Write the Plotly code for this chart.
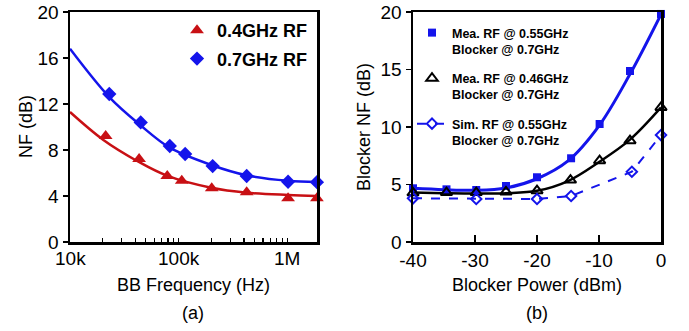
import math
import plotly.graph_objects as go

# ---------------- Panel (a) data ----------------
red_x = [21.3e3, 43.3e3, 78.7e3, 107e3, 202e3, 424e3, 1.02e6, 1.88e6]
red_y = [9.22, 7.22, 5.74, 5.33, 4.67, 4.32, 3.8, 3.8]
blue_x = [23e3, 44.8e3, 83e3, 115e3, 206e3, 424e3, 1.02e6, 1.88e6]
blue_y = [12.87, 10.4, 8.35, 7.65, 6.6, 5.74, 5.24, 5.2]

red_fit_x = [1e4, 2.03e4, 4.27e4, 7.8e4, 2e5, 4.24e5, 1.02e6, 1.88e6]
red_fit_y = [11.3, 8.87, 6.98, 5.77, 4.72, 4.29, 4.09, 4.0]
blue_fit_x = [1e4, 2.3e4, 4.4e4, 8.3e4, 2e5, 4.24e5, 1.02e6, 1.88e6]
blue_fit_y = [16.8, 12.6, 10.2, 8.2, 6.7, 5.8, 5.33, 5.22]

a_tick_vals = [2e4, 3e4, 4e4, 5e4, 6e4, 7e4, 8e4, 9e4, 1e5,
               2e5, 3e5, 4e5, 5e5, 6e5, 7e5, 8e5, 9e5, 1e6]
a_label_vals = [1e4, 1e5, 1e6]
a_label_text = ["10k", "100k", "1M"]
a_y_ticks = [0, 4, 8, 12, 16, 20]

# ---------------- Panel (b) data ----------------
mea55_x = [-40, -34.6, -29.8, -25, -20, -14.5, -9.9, -5, 0]
mea55_y = [4.67, 4.58, 4.52, 4.87, 5.63, 7.28, 10.26, 14.87, 19.83]
mea46_x = [-40, -34.6, -29.8, -25, -20, -14.6, -9.9, -5, 0]
mea46_y = [4.28, 4.3, 4.3, 4.35, 4.46, 5.39, 7.07, 8.81, 11.7]
sim55_x = [-40, -29.8, -20, -14.5, -4.7, 0]
sim55_y = [3.8, 3.74, 3.74, 4.0, 6.11, 9.3]

fit55_x = [-40, -35, -30, -25, -20, -15, -10, -5, 0]
fit55_y = [4.67, 4.55, 4.5, 4.7, 5.5, 7.05, 10.1, 14.6, 19.8]
fit46_x = [-40, -35, -30, -25, -20, -15, -10, -5, 0]
fit46_y = [4.3, 4.25, 4.22, 4.25, 4.45, 5.3, 6.95, 8.9, 11.7]

b_x_ticks = [-40, -30, -20, -10, 0]
b_x_text = ["-40", "-30", "-20", "-10", "0"]
b_y_ticks = [0, 5, 10, 15, 20]

RED = "rgb(200,16,20)"
BLUE = "rgb(20,20,235)"
FONT = "Liberation Sans, Arial, sans-serif"

fig = go.Figure()

# Panel (a)
fig.add_trace(go.Scatter(x=red_fit_x, y=red_fit_y, mode="lines", line=dict(color=RED, width=2.5, shape="spline"),
                         showlegend=False, xaxis="x", yaxis="y", hoverinfo="skip"))
fig.add_trace(go.Scatter(x=blue_fit_x, y=blue_fit_y, mode="lines", line=dict(color=BLUE, width=2.5, shape="spline"),
                         showlegend=False, xaxis="x", yaxis="y", hoverinfo="skip"))
fig.add_trace(go.Scatter(x=red_x, y=red_y, mode="markers", name="0.4GHz RF", legendgroup="a1",
                         marker=dict(symbol="triangle-up", size=12, color=RED),
                         cliponaxis=False, xaxis="x", yaxis="y", legend="legend"))
fig.add_trace(go.Scatter(x=blue_x, y=blue_y, mode="markers", name="0.7GHz RF", legendgroup="a2",
                         marker=dict(symbol="diamond", size=11, color=BLUE),
                         cliponaxis=False, xaxis="x", yaxis="y", legend="legend"))

# Panel (b)
fig.add_trace(go.Scatter(x=fit55_x, y=fit55_y, mode="lines", line=dict(color=BLUE, width=3, shape="spline"),
                         showlegend=False, xaxis="x2", yaxis="y2", hoverinfo="skip"))
fig.add_trace(go.Scatter(x=fit46_x, y=fit46_y, mode="lines", line=dict(color="black", width=2.5, shape="spline"),
                         showlegend=False, xaxis="x2", yaxis="y2", hoverinfo="skip"))
fig.add_trace(go.Scatter(x=mea55_x, y=mea55_y, mode="markers",
                         name="Mea. RF @ 0.55GHz<br>Blocker @ 0.7GHz", legendgroup="g1",
                         marker=dict(symbol="square", size=8, color=BLUE),
                         cliponaxis=False, xaxis="x2", yaxis="y2", legend="legend2"))
fig.add_trace(go.Scatter(x=mea46_x, y=mea46_y, mode="markers",
                         name="Mea. RF @ 0.46GHz<br>Blocker @ 0.7GHz", legendgroup="g2",
                         marker=dict(symbol="triangle-up-open", size=10, color="black", line=dict(width=2)),
                         cliponaxis=False, xaxis="x2", yaxis="y2", legend="legend2"))
fig.add_trace(go.Scatter(x=sim55_x, y=sim55_y, mode="lines+markers",
                         name="Sim. RF @ 0.55GHz<br>Blocker @ 0.7GHz", legendgroup="g3",
                         line=dict(color=BLUE, width=2, dash="dash"),
                         marker=dict(symbol="diamond-open", size=8, color=BLUE, line=dict(width=2)),
                         cliponaxis=False, xaxis="x2", yaxis="y2", legend="legend2"))

W, H = 689, 331
def px_x(v):
    return v / W
def px_y(v):
    return 1 - v / H

axis_common = dict(showline=True, linecolor="black", linewidth=2.5, mirror=True,
                   showgrid=False, zeroline=False, automargin=False,
                   tickfont=dict(family=FONT, size=19, color="black"))

fig.update_layout(
    width=W, height=H,
    margin=dict(l=0, r=0, t=0, b=0, autoexpand=False),
    plot_bgcolor="white", paper_bgcolor="white",
    font=dict(family=FONT, color="black"),
    hovermode=False,
    xaxis=dict(type="log", domain=[px_x(70), px_x(317)], range=[4, 6.275],
               tickvals=a_tick_vals, ticktext=[""] * len(a_tick_vals),
               ticks="inside", ticklen=4, tickwidth=1.2, tickcolor="black",
               anchor="y", **axis_common),
    yaxis=dict(domain=[px_y(242), px_y(12)], range=[0, 20], tickvals=a_y_ticks,
               ticks="outside", ticklen=5, tickwidth=1.5, tickcolor="black",
               anchor="x", **axis_common),
    xaxis2=dict(domain=[px_x(413), px_x(661)], range=[-40, 0], tickvals=b_x_ticks, ticktext=b_x_text,
                ticks="inside", ticklen=7, tickwidth=1.5, tickcolor="black",
                anchor="y2", **axis_common),
    yaxis2=dict(domain=[px_y(242), px_y(12)], range=[0, 20], tickvals=b_y_ticks,
                ticks="outside", ticklen=5, tickwidth=1.5, tickcolor="black",
                anchor="x2", **axis_common),
    legend=dict(x=px_x(177), y=px_y(12), xanchor="left", yanchor="top",
                bgcolor="rgba(0,0,0,0)", font=dict(family=FONT, size=18, color="black", weight="bold"),
                tracegroupgap=2, itemwidth=30),
    legend2=dict(x=px_x(412), y=px_y(18), xanchor="left", yanchor="top", valign="top",
                 bgcolor="rgba(0,0,0,0)", font=dict(family=FONT, size=12.5, color="black", weight="bold"),
                 tracegroupgap=10, itemwidth=30),
    showlegend=True,
)

# log-axis decade labels placed under the axis
annotations = []
for v, t in zip(a_label_vals, a_label_text):
    annotations.append(dict(x=math.log10(v), y=0, xref="x", yref="y", text=t, showarrow=False,
                            yanchor="top", yshift=-4, font=dict(family=FONT, size=19, color="black")))

titles = [
    dict(x=px_x(193), y=px_y(285), text="BB Frequency (Hz)", textangle=0),
    dict(x=px_x(193), y=px_y(313), text="(a)", textangle=0),
    dict(x=px_x(537), y=px_y(285), text="Blocker Power (dBm)", textangle=0),
    dict(x=px_x(537), y=px_y(313), text="(b)", textangle=0),
    dict(x=px_x(26), y=px_y(127), text="NF (dB)", textangle=-90),
    dict(x=px_x(364), y=px_y(127), text="Blocker NF (dB)", textangle=-90),
]
for t in titles:
    annotations.append(dict(xref="paper", yref="paper", showarrow=False,
                            xanchor="center", yanchor="middle",
                            font=dict(family=FONT, size=18, color="black"), **t))
fig.update_layout(annotations=annotations)

# remove the browser's default 8px page margin so the figure sits at the window origin
fig.write_html("out.html", config={"displayModeBar": False, "staticPlot": True},
               post_script="document.body.style.margin='0';")
